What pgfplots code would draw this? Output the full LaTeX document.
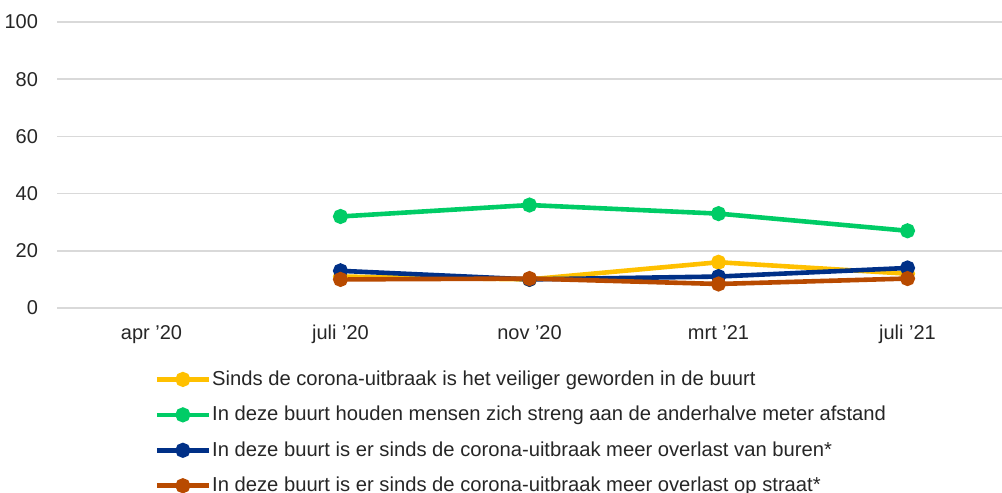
\documentclass[border=0pt]{standalone}
\usepackage{pgfplots}
\pgfplotsset{compat=1.18}
\usepackage{fontspec}
\setmainfont{Liberation Sans}
\usetikzlibrary{calc}
\definecolor{cyel}{HTML}{FFC000}
\definecolor{cgrn}{HTML}{00CC66}
\definecolor{cblu}{HTML}{003087}
\definecolor{cora}{HTML}{B84A00}
\definecolor{cgrid}{HTML}{D9D9D9}
\definecolor{ctxt}{HTML}{262626}
\begin{document}
\begin{tikzpicture}
\begin{axis}[
  name=ax,
  scale only axis,
  width=472.5pt, height=143pt,
  xmin=-0.5, xmax=4.5,
  ymin=0, ymax=100,
  ytick={0,20,...,100},
  xtick={0,1,2,3,4},
  xticklabels={apr '20, juli '20, nov '20, mrt '21, juli '21},
  axis line style={draw=none},
  major tick length=0pt,
  ymajorgrids,
  grid style={cgrid, line width=0.75pt},
  tick label style={font=\fontsize{10}{12}\selectfont, text=ctxt},
  /pgf/number format/assume math mode=true,
  yticklabel style={xshift=-6pt},
  xticklabel style={yshift=-5pt},
  legend style={at={(0.0965,-0.20)}, anchor=north west, draw=none, fill=none,
    font=\fontsize{10.1}{12}\selectfont, text=ctxt, row sep=7.9pt,
    nodes={inner sep=0.5pt}},
  legend cell align=left,
  legend image code/.code={\draw[mark repeat=2,mark phase=2,#1] plot coordinates {(0pt,0pt) (13pt,0pt) (26pt,0pt)};},
  every axis plot/.append style={line width=2.3pt, mark=*, mark size=2.6pt},
]
\addplot[cyel, mark options={fill=cyel}] coordinates {(1,11) (2,10) (3,16) (4,12)};
\addlegendentry{Sinds de corona-uitbraak is het veiliger geworden in de buurt}
\addplot[cgrn, mark options={fill=cgrn}] coordinates {(1,32) (2,36) (3,33) (4,27)};
\addlegendentry{In deze buurt houden mensen zich streng aan de anderhalve meter afstand}
\addplot[cblu, mark options={fill=cblu}] coordinates {(1,13) (2,10) (3,11) (4,14)};
\addlegendentry{In deze buurt is er sinds de corona-uitbraak meer overlast van buren*}
\addplot[cora, mark options={fill=cora}] coordinates {(1,10) (2,10.3) (3,8.4) (4,10.3)};
\addlegendentry{In deze buurt is er sinds de corona-uitbraak meer overlast op straat*}
\end{axis}
\pgfresetboundingbox
\path[use as bounding box] ($(ax.south west)+(-28.5pt,-92pt)$) rectangle ($(ax.north east)+(0,11pt)$);
\end{tikzpicture}
\end{document}
